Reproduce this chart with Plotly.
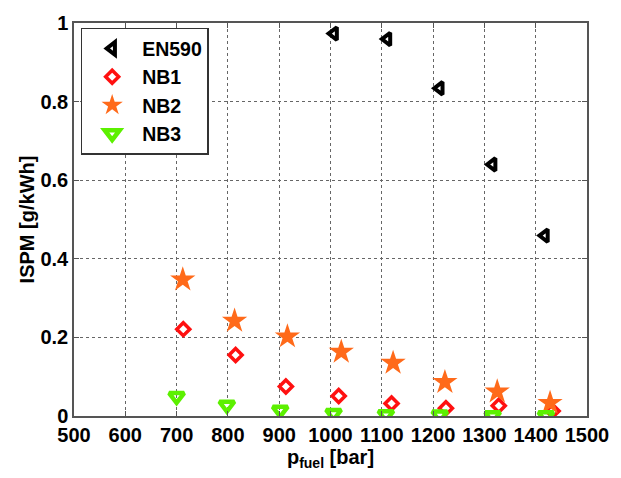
import plotly.graph_objects as go

en590_x = [1007, 1111, 1213, 1316, 1418]
en590_y = [0.973, 0.959, 0.834, 0.640, 0.459]

nb1_x = [713, 815, 913, 1016, 1119, 1225, 1328, 1433]
nb1_y = [0.221, 0.155, 0.075, 0.051, 0.032, 0.020, 0.026, 0.013]

nb2_x = [712, 813, 916, 1021, 1122, 1223, 1325, 1428]
nb2_y = [0.347, 0.242, 0.202, 0.163, 0.135, 0.086, 0.062, 0.033]

nb3_x = [700, 798, 902, 1006, 1108, 1213, 1316, 1420]
nb3_y = [0.050, 0.028, 0.015, 0.007, 0.004, 0.003, 0.001, 0.001]

x_ticks = [500, 600, 700, 800, 900, 1000, 1100, 1200, 1300, 1400, 1500]
y_ticks = [0, 0.2, 0.4, 0.6, 0.8, 1]
y_tick_labels = ["0", "0.2", "0.4", "0.6", "0.8", "1"]

FONT = "Liberation Sans"

fig = go.Figure()
fig.add_trace(go.Scatter(x=en590_x, y=en590_y, mode="markers", name="<b>EN590</b>",
    marker=dict(symbol="triangle-left-open", size=11, color="black", line=dict(width=4, color="black"))))
fig.add_trace(go.Scatter(x=nb1_x, y=nb1_y, mode="markers", name="<b>NB1</b>",
    marker=dict(symbol="diamond-open", size=10, color="#ff1010", line=dict(width=3.5, color="#ff1010"))))
fig.add_trace(go.Scatter(x=nb2_x, y=nb2_y, mode="markers", name="<b>NB2</b>",
    marker=dict(symbol="star", size=19, color="#ff6a1a", line=dict(width=0))))
fig.add_trace(go.Scatter(x=nb3_x, y=nb3_y, mode="markers", name="<b>NB3</b>",
    marker=dict(symbol="triangle-down-open", size=13, color="#5cf000", line=dict(width=4.5, color="#5cf000"))))

axis_common = dict(showline=True, linecolor="#555555", linewidth=1.5, mirror="ticks",
                   ticks="inside", ticklen=5, tickcolor="#555555",
                   showgrid=True, gridcolor="#666666", griddash="dot", gridwidth=1,
                   zeroline=False, tickangle=0,
                   tickfont=dict(family=FONT, size=20, color="black"))

fig.update_layout(
    width=621, height=478,
    margin=dict(l=74, r=26, t=15, b=62),
    paper_bgcolor="white", plot_bgcolor="white",
    font=dict(family=FONT, size=20, color="black"),
    xaxis=dict(range=[500, 1500], tickvals=x_ticks,
               ticktext=["<b>%d</b>" % v for v in x_ticks],
               title=dict(text="<b>p<sub>fuel</sub> [bar]</b>", standoff=3,
                          font=dict(family=FONT, size=20, color="black")),
               **axis_common),
    yaxis=dict(range=[0, 1], tickvals=y_ticks,
               ticktext=["<b>%s</b>" % t for t in y_tick_labels],
               title=dict(text="<b>ISPM [g/kWh]</b>", standoff=0,
                          font=dict(family=FONT, size=20, color="black")),
               **axis_common),
    legend=dict(x=0.013, y=0.988, xanchor="left", yanchor="top",
                bgcolor="white", bordercolor="#333333", borderwidth=1.5,
                font=dict(family=FONT, size=19.5, color="black"),
                itemsizing="trace", tracegroupgap=0, itemwidth=50),
    showlegend=True,
)

fig.write_html("out.html")
